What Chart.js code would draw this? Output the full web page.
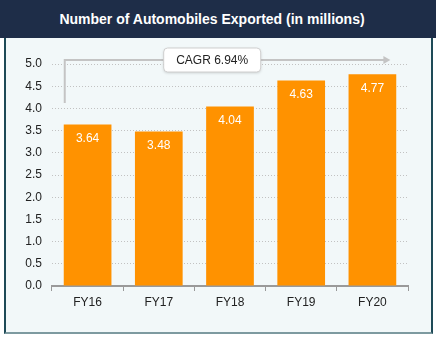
<!DOCTYPE html>
<html>
<head>
<meta charset="utf-8">
<script src="https://cdn.jsdelivr.net/npm/chart.js@4"></script>
<style>
  body { margin: 0; background: #ffffff; font-family: "Liberation Sans", Arial, sans-serif; }
  #header {
    position: absolute; left: 0; top: 0; width: 436px; height: 38px;
    background: #1e2d48; color: #fff; font-weight: bold; font-size: 14px;
    text-align: center; line-height: 38px; box-sizing: border-box; padding-right: 12px;
  }
  #panel {
    position: absolute; left: 4px; top: 38px; width: 429px; height: 296px;
    background: #f2f8f9; border-left: 2px solid #1e4a57; border-right: 2px solid #1e4a57;
    border-bottom: 2px solid #7d9aa0; box-sizing: border-box;
  }
  #chartBox { position: absolute; left: 0; top: 0; width: 425px; height: 294px; }
</style>
</head>
<body>
<div id="header">Number of Automobiles Exported (in millions)</div>
<div id="panel"><div id="chartBox"><canvas id="exports"></canvas></div></div>
<script>
  // chart data
  const years = ["FY16", "FY17", "FY18", "FY19", "FY20"];
  const exported = [3.64, 3.48, 4.04, 4.63, 4.77];
  const cagrText = "CAGR 6.94%";

  // value labels inside the bars
  const barLabels = {
    id: "barLabels",
    afterDatasetsDraw(chart) {
      const ctx = chart.ctx;
      const meta = chart.getDatasetMeta(0);
      ctx.save();
      ctx.fillStyle = "#ffffff";
      ctx.font = "12px 'Liberation Sans', Arial, sans-serif";
      ctx.textAlign = "center";
      ctx.textBaseline = "middle";
      meta.data.forEach((bar, i) => {
        ctx.fillText(exported[i].toFixed(2), bar.x, bar.y + 14);
      });
      ctx.restore();
    }
  };

  // CAGR arrow and box
  const cagrArrow = {
    id: "cagrArrow",
    afterDraw(chart) {
      const ctx = chart.ctx;
      const x = chart.scales.x;
      const y = chart.scales.y;
      const bars = chart.getDatasetMeta(0).data;
      const first = bars[0];
      const last = bars[bars.length - 1];
      const x0 = first.x - first.width / 2 + 1;
      const x1 = last.x + 12;
      const yLow = y.getPixelForValue(4.12);
      const yTop = y.getPixelForValue(5.09);

      ctx.save();
      ctx.strokeStyle = "#c4c4c4";
      ctx.lineWidth = 2;
      ctx.beginPath();
      ctx.moveTo(x0, yLow);
      ctx.lineTo(x0, yTop);
      ctx.lineTo(x1, yTop);
      ctx.stroke();
      ctx.fillStyle = "#c4c4c4";
      ctx.beginPath();
      ctx.moveTo(x1 - 1, yTop - 4);
      ctx.lineTo(x1 + 6, yTop);
      ctx.lineTo(x1 - 1, yTop + 4);
      ctx.closePath();
      ctx.fill();

      // box
      const cx = x.getPixelForValue(1.75);
      const w = 97, h = 24;
      const bx = cx - w / 2, by = yTop - h / 2;
      ctx.shadowColor = "rgba(0,0,0,0.18)";
      ctx.shadowBlur = 3;
      ctx.shadowOffsetY = 1;
      ctx.fillStyle = "#ffffff";
      ctx.beginPath();
      ctx.roundRect(bx, by, w, h, 4);
      ctx.fill();
      ctx.shadowColor = "transparent";
      ctx.strokeStyle = "#cfcfcf";
      ctx.lineWidth = 1;
      ctx.stroke();
      ctx.fillStyle = "#222222";
      ctx.font = "12px 'Liberation Sans', Arial, sans-serif";
      ctx.textAlign = "center";
      ctx.textBaseline = "middle";
      ctx.fillText(cagrText, cx, yTop + 1);
      ctx.restore();
    }
  };

  const ctx = document.getElementById("exports").getContext("2d");
  new Chart(ctx, {
    type: "bar",
    data: {
      labels: years,
      datasets: [{
        data: exported,
        backgroundColor: "#ff9200",
        categoryPercentage: 1,
        barPercentage: 0.67
      }]
    },
    options: {
      responsive: true,
      maintainAspectRatio: false,
      animation: false,
      layout: { padding: { top: 26, right: 23, left: 0, bottom: 0 } },
      plugins: { legend: { display: false }, tooltip: { enabled: false } },
      scales: {
        x: {
          afterFit(scale) { scale.height = 46; },
          grid: { display: true, drawOnChartArea: false, drawTicks: true, tickLength: 5, color: "#999999", offset: true },
          border: { display: true, color: "#9a9a9a", width: 2 },
          ticks: { color: "#222222", padding: 4, font: { family: "'Liberation Sans', Arial, sans-serif", size: 12 } }
        },
        y: {
          min: 0,
          max: 5,
          afterFit(scale) { scale.width = 46; },
          grid: { color: "#c2c2c2", drawTicks: false },
          border: { display: false, dash: [1, 2] },
          ticks: {
            stepSize: 0.5,
            padding: 10,
            color: "#222222",
            font: { family: "'Liberation Sans', Arial, sans-serif", size: 12 },
            callback: v => v.toFixed(1)
          }
        }
      }
    },
    plugins: [barLabels, cagrArrow]
  });
</script>
</body>
</html>
